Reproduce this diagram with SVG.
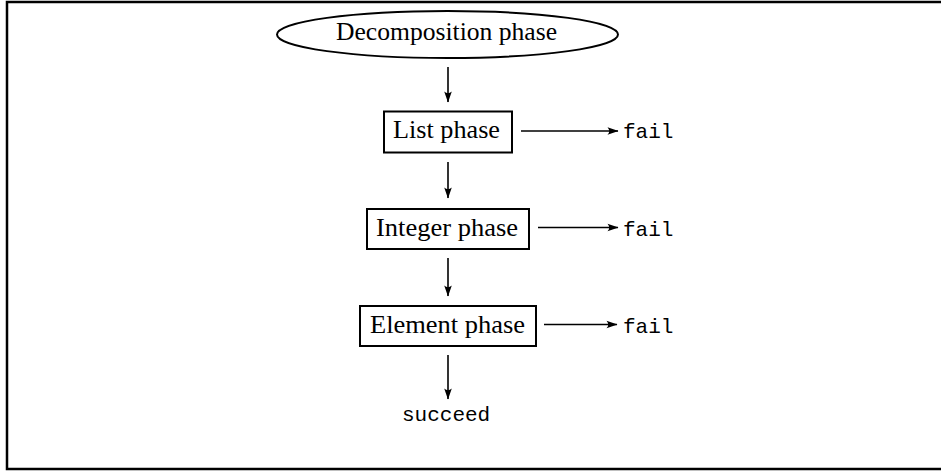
<svg xmlns="http://www.w3.org/2000/svg" width="941" height="471" viewBox="0 0 941 471">
<defs>
<marker id="ah" markerUnits="userSpaceOnUse" markerWidth="14" markerHeight="10" viewBox="-12 -5 13 10" refX="0" refY="0" orient="auto">
<path d="M0.5,0 L-10.5,-3.8 Q-7,0 -10.5,3.8 Z" fill="#000"/>
</marker>
<style>
.frame{fill:none;stroke:#000;stroke-width:2.5}
.node{fill:#fff;stroke:#000;stroke-width:2}
.lbl{font-family:"Liberation Serif","Times New Roman",serif;font-size:25px;fill:#000}
.tt{font-family:"Liberation Mono","Courier New",monospace;font-size:21px;fill:#000}
.edge{stroke:#000;stroke-width:1.6;fill:none;marker-end:url(#ah)}
</style>
</defs>
<rect class="frame" x="7" y="2" width="945" height="467"/>
<g id="decomposition">
<ellipse class="node" cx="447.5" cy="34.5" rx="170.5" ry="23.5"/>
<text class="lbl" x="336" y="39.5" textLength="221" lengthAdjust="spacingAndGlyphs">Decomposition phase</text>
</g>
<g id="list">
<rect class="node" x="384" y="111.5" width="128" height="41"/>
<text class="lbl" x="393" y="138" textLength="107" lengthAdjust="spacingAndGlyphs">List phase</text>
</g>
<g id="integer">
<rect class="node" x="367" y="209" width="162" height="40"/>
<text class="lbl" x="376" y="235.5" textLength="142" lengthAdjust="spacingAndGlyphs">Integer phase</text>
</g>
<g id="element">
<rect class="node" x="360" y="306" width="176" height="40"/>
<text class="lbl" x="370" y="332.5" textLength="155" lengthAdjust="spacingAndGlyphs">Element phase</text>
</g>
<g id="fail1"><text class="tt" x="623" y="138">fail</text></g>
<g id="fail2"><text class="tt" x="623" y="235.5">fail</text></g>
<g id="fail3"><text class="tt" x="623" y="332.5">fail</text></g>
<g id="succeed"><text class="tt" x="402" y="421">succeed</text></g>
<g id="connectors">
<line class="edge" x1="448" y1="67" x2="448" y2="102"/>
<line class="edge" x1="448" y1="162" x2="448" y2="198"/>
<line class="edge" x1="448" y1="258" x2="448" y2="296"/>
<line class="edge" x1="448" y1="355" x2="448" y2="399"/>
<line class="edge" x1="521" y1="131" x2="618" y2="131"/>
<line class="edge" x1="538" y1="227.5" x2="618" y2="227.5"/>
<line class="edge" x1="544" y1="324.5" x2="617" y2="324.5"/>
</g>
</svg>
